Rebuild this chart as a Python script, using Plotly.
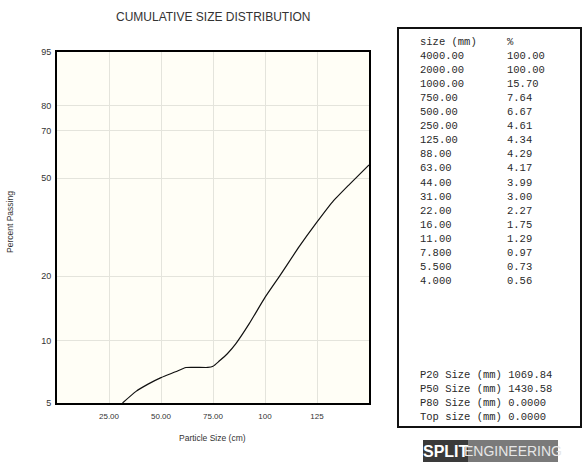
import numpy as np
import plotly.graph_objects as go

# ---------------- data ----------------
chart_title = "CUMULATIVE SIZE DISTRIBUTION"
x_title = "Particle Size (cm)"
y_title = "Percent Passing"

size_cm = [31.5, 38, 44, 50, 57, 62, 72.5, 75, 78, 82, 86, 92.5, 100, 107, 116.5, 124.5, 132.5, 140.5, 150]
passing = [5.0, 5.7, 6.2, 6.65, 7.1, 7.45, 7.45, 7.55, 8.0, 8.7, 9.7, 12.1, 16.0, 20.0, 27.0, 33.7, 41.0, 47.5, 55.5]

y_tick_values = [5, 10, 20, 50, 70, 80, 95]
x_tick_values = [25, 50, 75, 100, 125]
x_tick_labels = ["25.00", "50.00", "75.00", "100", "125"]

table_header = ["size (mm)", "%"]
table_size = ["4000.00", "2000.00", "1000.00", "750.00", "500.00", "250.00", "125.00", "88.00",
              "63.00", "44.00", "31.00", "22.00", "16.00", "11.00", "7.800", "5.500", "4.000"]
table_pct = ["100.00", "100.00", "15.70", "7.64", "6.67", "4.61", "4.34", "4.29",
             "4.17", "3.99", "3.00", "2.27", "1.75", "1.29", "0.97", "0.73", "0.56"]

stats_labels = ["P20 Size (mm)", "P50 Size (mm)", "P80 Size (mm)", "Top size (mm)"]
stats_values = ["1069.84", "1430.58", "0.0000", "0.0000"]

logo_left = "SPLIT"
logo_right = "ENGINEERING"


# Rosin-Rammler probability scale
def rr(p):
    p = np.asarray(p, dtype=float) / 100.0
    return np.log(-np.log(1.0 - p))


# ---------------- figure ----------------
W, H = 582, 466
L, R, T, B = 57, 369, 52, 403


def px(x):
    return (x - L) / (R - L)


def py(y):
    return (B - y) / (B - T)


fig = go.Figure()
fig.add_trace(go.Scatter(
    x=size_cm, y=rr(passing), mode="lines",
    line=dict(color="#111111", width=1.2, shape="spline", smoothing=0.5),
    hoverinfo="skip", showlegend=False, cliponaxis=True,
))

axis_common = dict(
    showline=True, mirror=True, linecolor="#000000", linewidth=2,
    showgrid=True, gridcolor="#E4E4DC", gridwidth=1, zeroline=False,
    ticks="",
)

fig.update_xaxes(
    range=[0, 150], tickvals=x_tick_values, ticktext=x_tick_labels,
    tickfont=dict(family="Liberation Sans, Arial, sans-serif", size=8, color="#333333"),
    ticklabelstandoff=4,
    **axis_common,
)
fig.update_yaxes(
    range=[float(rr(5)), float(rr(95))],
    tickvals=list(rr(y_tick_values)), ticktext=[str(v) for v in y_tick_values],
    tickfont=dict(family="Liberation Sans, Arial, sans-serif", size=9, color="#333333"),
    ticklabelstandoff=2,
    **axis_common,
)

annotations = []
shapes = []

# title and axis titles
annotations.append(dict(x=px(212.5), y=py(17), xref="paper", yref="paper", text=chart_title,
                        showarrow=False, xanchor="center", yanchor="middle",
                        font=dict(family="Liberation Sans, Arial, sans-serif", size=12, color="#333333")))
annotations.append(dict(x=px(212), y=py(438), xref="paper", yref="paper", text=x_title,
                        showarrow=False, xanchor="center", yanchor="middle",
                        font=dict(family="Liberation Sans, Arial, sans-serif", size=8.5, color="#333333")))
annotations.append(dict(x=px(10), y=py(222), xref="paper", yref="paper", text=y_title,
                        showarrow=False, xanchor="center", yanchor="middle", textangle=-90,
                        font=dict(family="Liberation Sans, Arial, sans-serif", size=8.5, color="#333333")))

# table box
shapes.append(dict(type="rect", xref="paper", yref="paper",
                   x0=px(398), x1=px(581), y0=py(427), y1=py(28),
                   line=dict(color="#111111", width=2), fillcolor="#FFFFFF", layer="below"))

mono = dict(family="Liberation Mono, DejaVu Sans Mono, monospace", size=10.5, color="#2a2a2a")
col1, col2 = 418, 505
annotations.append(dict(x=px(col1), y=py(42), xref="paper", yref="paper", text=table_header[0],
                        showarrow=False, xanchor="left", yanchor="middle", font=mono))
annotations.append(dict(x=px(col2), y=py(42), xref="paper", yref="paper", text=table_header[1],
                        showarrow=False, xanchor="left", yanchor="middle", font=mono))
for i, (s, p) in enumerate(zip(table_size, table_pct)):
    yy = 56 + 14.06 * i
    annotations.append(dict(x=px(col1), y=py(yy), xref="paper", yref="paper", text=s,
                            showarrow=False, xanchor="left", yanchor="middle", font=mono))
    annotations.append(dict(x=px(col2), y=py(yy), xref="paper", yref="paper", text=p,
                            showarrow=False, xanchor="left", yanchor="middle", font=mono))
for i, (lab, val) in enumerate(zip(stats_labels, stats_values)):
    yy = 375 + 14 * i
    annotations.append(dict(x=px(418), y=py(yy), xref="paper", yref="paper", text=lab + " " + val,
                            showarrow=False, xanchor="left", yanchor="middle", font=mono))

# logo
shapes.append(dict(type="rect", xref="paper", yref="paper",
                   x0=px(423), x1=px(468), y0=py(462), y1=py(440),
                   line=dict(width=0), fillcolor="#3a3a3a"))
shapes.append(dict(type="rect", xref="paper", yref="paper",
                   x0=px(468), x1=px(558), y0=py(462), y1=py(440),
                   line=dict(width=0), fillcolor="#7a7a7a"))
annotations.append(dict(x=px(445.5), y=py(451), xref="paper", yref="paper", text="<b>" + logo_left + "</b>",
                        showarrow=False, xanchor="center", yanchor="middle", borderpad=0,
                        font=dict(family="Liberation Sans Narrow, Arial Narrow, Liberation Sans, sans-serif",
                                  size=16, color="#FFFFFF")))
annotations.append(dict(x=px(513), y=py(451), xref="paper", yref="paper", text=logo_right,
                        showarrow=False, xanchor="center", yanchor="middle", borderpad=0,
                        font=dict(family="Liberation Sans Narrow, Arial Narrow, Liberation Sans, sans-serif",
                                  size=14, color="#E6E6E6")))

fig.update_layout(
    width=W, height=H,
    margin=dict(l=L, r=W - R, t=T, b=H - B, pad=0),
    paper_bgcolor="#FFFFFF", plot_bgcolor="#FFFEF6",
    annotations=annotations, shapes=shapes,
    showlegend=False,
)

fig.write_html("out.html", config={"displayModeBar": False},
               post_script="document.body.style.margin='0';document.body.style.padding='0';")
